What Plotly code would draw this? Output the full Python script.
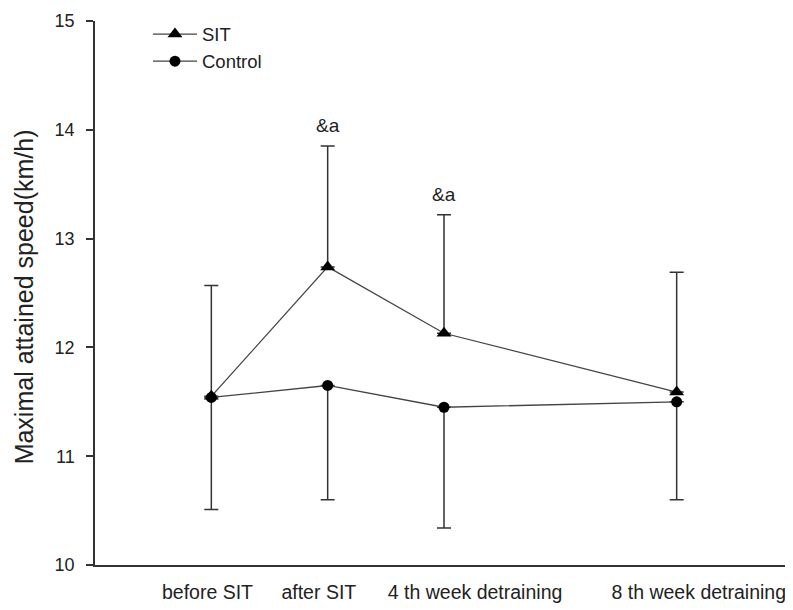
import plotly.graph_objects as go

# ---- data ----
stage_labels = ["before SIT", "after SIT", "4 th week detraining", "8 th week detraining"]
stage_x = [0, 1, 2, 4]
label_x = [-0.033, 0.924, 2.267, 4.19]

sit_mean = [11.55, 12.74, 12.13, 11.59]
sit_sd = [1.02, 1.11, 1.09, 1.10]

ctrl_mean = [11.54, 11.65, 11.45, 11.50]
ctrl_sd = [1.03, 1.05, 1.11, 0.90]

sig_marks = ["", "&a", "&a", ""]

y_ticks = [10, 11, 12, 13, 14, 15]

SANS = "Liberation Sans, Arial, sans-serif"
TXT = "#222222"
AX = "#333333"

fig = go.Figure()

fig.add_trace(go.Scatter(
    x=stage_x, y=sit_mean, name="SIT", mode="lines+markers",
    line=dict(color="#444444", width=1.3),
    marker=dict(symbol="triangle-up", size=13, color="black"),
    error_y=dict(type="data", array=sit_sd, arrayminus=[0] * len(sit_sd),
                 symmetric=False, color=AX, thickness=1.5, width=7),
))

fig.add_trace(go.Scatter(
    x=stage_x, y=ctrl_mean, name="Control", mode="lines+markers",
    line=dict(color="#444444", width=1.3),
    marker=dict(symbol="circle", size=11, color="black"),
    error_y=dict(type="data", array=[0] * len(ctrl_sd), arrayminus=ctrl_sd,
                 symmetric=False, color=AX, thickness=1.5, width=7),
))

annotations = []
for xv, m, s, t in zip(stage_x, sit_mean, sit_sd, sig_marks):
    if t:
        annotations.append(dict(x=xv, y=m + s, xref="x", yref="y", text=t,
                                showarrow=False, yanchor="bottom", yshift=8,
                                font=dict(family=SANS, size=19, color=TXT)))

annotations.append(dict(x=-0.1017, y=0.492, xref="paper", yref="paper",
                        text="Maximal attained speed(km/h)", textangle=-90,
                        showarrow=False, xanchor="center", yanchor="middle",
                        font=dict(family=SANS, size=25, color=TXT)))

fig.update_layout(
    width=785, height=602,
    margin=dict(l=87, r=0, t=13, b=45),
    paper_bgcolor="white", plot_bgcolor="white",
    showlegend=True,
    legend=dict(x=0.0759, y=1.01, xanchor="left", yanchor="top",
                bgcolor="rgba(0,0,0,0)", font=dict(family=SANS, size=18.5, color=TXT),
                tracegroupgap=0, itemwidth=44),
    annotations=annotations,
    xaxis=dict(range=[-1, 5], showgrid=False, zeroline=False, showline=True,
               linecolor=AX, linewidth=1.5, ticks="", tickvals=label_x,
               ticktext=stage_labels, automargin=False,
               ticklabeloverflow="allow", ticklabelstandoff=9,
               tickfont=dict(family=SANS, size=19.5, color=TXT)),
    yaxis=dict(range=[10, 15], showgrid=False, zeroline=False, showline=True,
               linecolor=AX, linewidth=1.5, ticks="outside", ticklen=7,
               tickcolor=AX, tickwidth=1.5, tickvals=y_ticks, automargin=False,
               ticklabelstandoff=8,
               tickfont=dict(family=SANS, size=18, color=TXT)),
)

fig.write_html("out.html")
